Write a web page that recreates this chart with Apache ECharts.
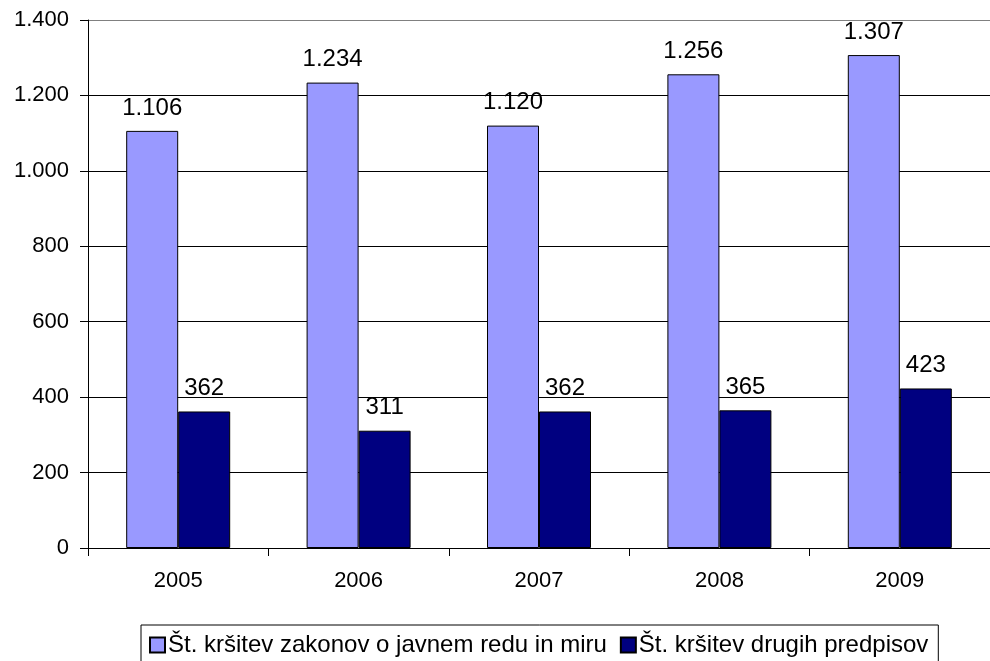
<!DOCTYPE html>
<html>
<head>
<meta charset="utf-8">
<script src="https://cdn.jsdelivr.net/npm/echarts@6/dist/echarts.min.js"></script>
<style>html,body{margin:0;padding:0;background:#fff;}#c{width:990px;height:661px;}</style>
</head>
<body>
<div id="c"></div>
<script>
const categories = ['2005', '2006', '2007', '2008', '2009'];
const seriesNames = ['Št. kršitev zakonov o javnem redu in miru', 'Št. kršitev drugih predpisov'];
const publicOrder = [1106, 1234, 1120, 1256, 1307];
const otherRules = [362, 311, 362, 365, 423];
const yTicks = [0, 200, 400, 600, 800, 1000, 1200, 1400];

function fmt(v) {
  v = Math.round(v);
  if (v >= 1000) return Math.floor(v / 1000) + '.' + String(v % 1000).padStart(3, '0');
  return String(v);
}
const font = 'Liberation Sans, Arial, sans-serif';
const chart = echarts.init(document.getElementById('c'));
chart.setOption({
  animation: false,
  backgroundColor: '#fff',
  textStyle: { fontFamily: font },
  grid: { left: 88, top: 20, right: 0, bottom: 113, containLabel: false },
  legend: {
    left: 141, top: 625, width: 845,
    orient: 'horizontal',
    data: seriesNames,
    borderColor: '#000', borderWidth: 1, borderRadius: 0,
    padding: [8, 10, 14, 8],
    itemWidth: 15, itemHeight: 15, itemGap: 13,
    icon: 'rect',
    textStyle: { fontFamily: font, fontSize: 24, color: '#000', padding: [0, 0, 0, -2] }
  },
  xAxis: {
    type: 'category', data: categories,
    axisLine: { lineStyle: { color: '#000', width: 1 } },
    axisTick: { show: true, length: 8, lineStyle: { color: '#000' } },
    axisLabel: { color: '#000', fontSize: 22, fontFamily: font, margin: 22 },
    splitLine: { show: false }
  },
  yAxis: {
    type: 'value', min: 0, max: 1400, interval: 200,
    axisLine: { show: true, lineStyle: { color: '#000', width: 1 } },
    axisTick: { show: true, length: 8, lineStyle: { color: '#000' } },
    axisLabel: { color: '#000', fontSize: 22, fontFamily: font, margin: 19, formatter: fmt },
    splitLine: { show: true, lineStyle: { color: ['#000', '#000', '#000', '#000', '#000', '#000', '#000', '#808080'], width: 1 } }
  },
  series: [
    {
      name: seriesNames[0], type: 'bar', data: publicOrder,
      barWidth: 52, barGap: '0%',
      itemStyle: { color: '#9999FF', borderColor: '#000', borderWidth: 1 },
      label: { show: true, position: 'top', distance: 11, color: '#000', fontSize: 24, fontFamily: font, formatter: p => fmt(p.value) }
    },
    {
      name: seriesNames[1], type: 'bar', data: otherRules,
      barWidth: 52, barGap: '0%',
      itemStyle: { color: '#000080', borderColor: '#000', borderWidth: 1 },
      label: { show: true, position: 'top', distance: 11, color: '#000', fontSize: 24, fontFamily: font, formatter: p => fmt(p.value) }
    }
  ]
});
</script>
</body>
</html>
